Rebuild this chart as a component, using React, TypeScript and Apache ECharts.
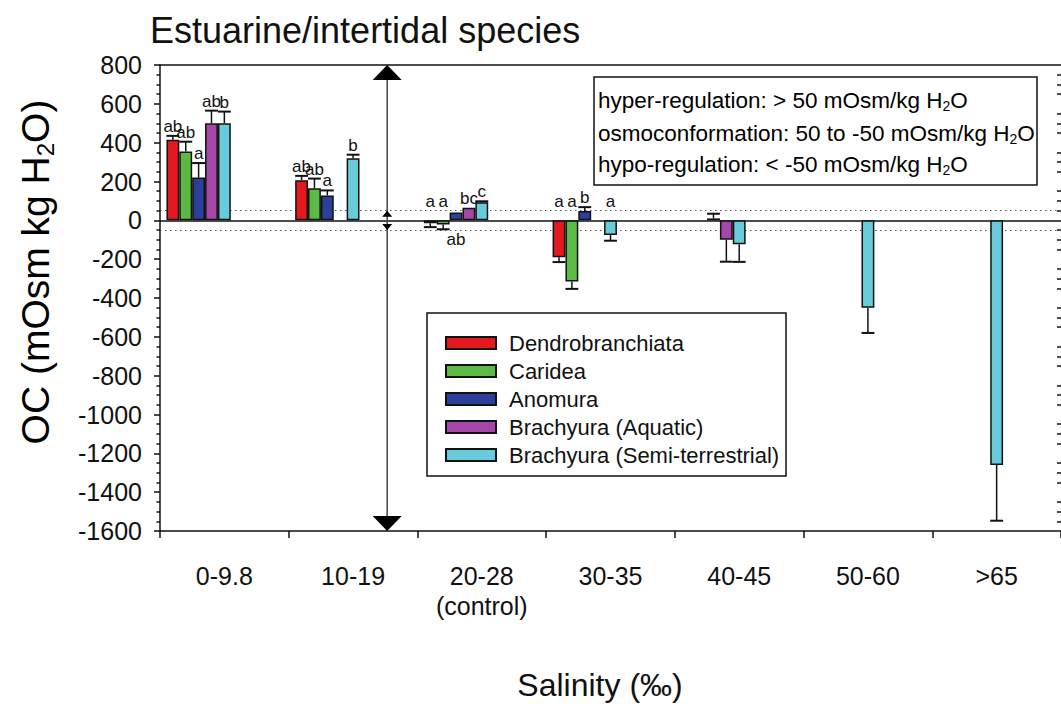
import React, { useEffect, useRef } from 'react';
import * as echarts from 'echarts';

// Salinity classes (‰) on the x axis
const categories = ['0-9.8', '10-19', '20-28\n(control)', '30-35', '40-45', '50-60', '>65'];

// Taxa shown as grouped bars
const seriesNames = [
  'Dendrobranchiata',
  'Caridea',
  'Anomura',
  'Brachyura (Aquatic)',
  'Brachyura (Semi-terrestrial)',
];
const seriesColors = ['#e3191f', '#5aba45', '#2c409b', '#a546a9', '#68cbdb'];

// Osmotic capacity (mOsm/kg H2O), mean and one-sided error per salinity class
const dendrobranchiata = [415, 207, -15, -190, null, null, null];
const dendrobranchiataErr = [20, 22, 20, 25, null, null, null];
const caridea = [355, 165, -22, -315, null, null, null];
const carideaErr = [50, 50, 24, 38, null, null, null];
const anomura = [220, 128, 40, 48, 10, null, null];
const anomuraErr = [75, 26, null, 20, 24, null, null];
const brachyuraAquatic = [500, null, 65, null, -100, null, null];
const brachyuraAquaticErr = [65, null, null, null, 113, null, null];
const brachyuraSemi = [500, 320, 93, -75, -123, -450, -1260];
const brachyuraSemiErr = [60, 18, 5, 30, 91, 130, 287];

// Significance letters
const dendrobranchiataLetters = ['ab', 'ab', 'a', 'a', '', '', ''];
const carideaLetters = ['ab', 'ab', 'a', 'a', '', '', ''];
const anomuraLetters = ['a', 'a', 'ab', 'b', '', '', ''];
const brachyuraAquaticLetters = ['ab', '', 'bc', '', '', '', ''];
const brachyuraSemiLetters = ['b', 'b', 'c', 'a', '', '', ''];
// [series, category] letters printed under the zero line
const lettersUnderAxis = [[2, 2]];

// Y axis range and regulation thresholds
const yMin = -1600;
const yMax = 800;
const yStep = 200;
const hyperLimit = 50;
const hypoLimit = -50;

const values = [dendrobranchiata, caridea, anomura, brachyuraAquatic, brachyuraSemi];
const errors = [dendrobranchiataErr, carideaErr, anomuraErr, brachyuraAquaticErr, brachyuraSemiErr];
const letters = [
  dendrobranchiataLetters,
  carideaLetters,
  anomuraLetters,
  brachyuraAquaticLetters,
  brachyuraSemiLetters,
];

const FONT = '"Liberation Sans", Arial, Helvetica, sans-serif';
const INK = '#111';
const BAR_SHARE = 0.1; // bar width as a share of the category band
const SPACER_SHARE = 0.4;

function subRich(size: number, subSize: number, lh: number) {
  return {
    t: { fontSize: size, fontFamily: FONT, color: INK, lineHeight: lh },
    s: { fontSize: subSize, fontFamily: FONT, color: INK, lineHeight: subSize, verticalAlign: 'bottom' },
  };
}

export default function App() {
  const ref = useRef<HTMLDivElement>(null);

  useEffect(() => {
    if (!ref.current) return;
    const chart = echarts.init(ref.current, null, { renderer: 'svg' });

    const barSeries = values.map((vals, k) => ({
      name: seriesNames[k],
      type: 'bar',
      xAxisIndex: 0,
      yAxisIndex: 0,
      data: vals.map((v) => (v == null ? '-' : v)),
      barWidth: `${BAR_SHARE * 100}%`,
      barGap: '0%',
      z: 2,
      itemStyle: { color: seriesColors[k], borderColor: INK, borderWidth: 1.5 },
      ...(k === 0
        ? {
            markLine: {
              silent: true,
              z: 1,
              symbol: ['none', 'none'],
              label: { show: false },
              data: [
                { yAxis: hyperLimit, lineStyle: { color: '#555', width: 1, type: [1.5, 3.5] } },
                { yAxis: hypoLimit, lineStyle: { color: '#555', width: 1, type: [1.5, 3.5] } },
                { yAxis: 0, lineStyle: { color: INK, width: 1.5, type: 'solid' } },
              ],
            },
          }
        : {}),
    }));

    const spacer = {
      name: 'spacer',
      type: 'bar',
      xAxisIndex: 0,
      yAxisIndex: 0,
      data: categories.map(() => '-'),
      barWidth: `${SPACER_SHARE * 100}%`,
      barGap: '0%',
      silent: true,
      itemStyle: { color: 'transparent' },
    };

    const errorSeries = values.map((vals, k) => ({
      name: seriesNames[k] + ' error',
      type: 'custom',
      xAxisIndex: 0,
      yAxisIndex: 0,
      z: 4,
      silent: true,
      encode: { x: 0, y: 1 },
      data: vals
        .map((v, i) => (v == null ? null : [i, v, errors[k][i] ?? 0]))
        .filter((d) => d !== null),
      renderItem: (params: any, api: any) => {
        const ci = api.value(0) as number;
        const v = api.value(1) as number;
        const e = api.value(2) as number;
        const catW = api.size([1, 0])[0];
        const barW = BAR_SHARE * catW;
        const cx = api.coord([ci, 0])[0] - ((5 * BAR_SHARE + SPACER_SHARE) / 2) * catW + (k + 0.5) * barW;
        const y0 = api.coord([ci, 0])[1];
        const yv = api.coord([ci, v])[1];
        const sign = v >= 0 ? 1 : -1;
        const children: any[] = [];
        let yEnd = yv;
        if (e > 0) {
          const ye = api.coord([ci, v + sign * e])[1];
          yEnd = ye;
          children.push({
            type: 'line',
            shape: { x1: cx, y1: yv, x2: cx, y2: ye },
            style: { stroke: INK, lineWidth: 1.5 },
          });
          children.push({
            type: 'line',
            shape: { x1: cx - barW / 2, y1: ye, x2: cx + barW / 2, y2: ye },
            style: { stroke: INK, lineWidth: 2 },
          });
        }
        const letter = letters[k][ci];
        if (letter) {
          const under = lettersUnderAxis.some(([s, c]) => s === k && c === ci);
          let ty: number;
          let va: string;
          if (under) {
            ty = y0 + 11;
            va = 'top';
          } else if (v >= 0) {
            ty = Math.min(yEnd, yv) - 1;
            va = 'bottom';
          } else {
            ty = y0 - 10;
            va = 'bottom';
          }
          children.push({
            type: 'text',
            style: {
              text: letter,
              x: cx,
              y: ty,
              align: 'center',
              verticalAlign: va,
              textAlign: 'center',
              textVerticalAlign: va,
              fontSize: 17,
              fontFamily: FONT,
              fill: INK,
            },
          });
        }
        return { type: 'group', children };
      },
    }));

    // Range arrow spanning the axis, with small heads at the osmoconformation band
    const arrowSeries = {
      name: 'range arrow',
      type: 'custom',
      xAxisIndex: 0,
      yAxisIndex: 0,
      z: 3,
      silent: true,
      encode: { x: 0, y: 1 },
      data: [[1, 0]],
      renderItem: (params: any, api: any) => {
        const catW = api.size([1, 0])[0];
        const x = api.coord([1, 0])[0] + 0.265 * catW;
        const yT = api.coord([1, yMax])[1];
        const yB = api.coord([1, yMin])[1];
        const yH = api.coord([1, hyperLimit])[1];
        const yL = api.coord([1, hypoLimit])[1];
        const big = 14.5;
        const bigH = 15;
        const sm = 5;
        const smH = 6;
        return {
          type: 'group',
          children: [
            { type: 'line', shape: { x1: x, y1: yT, x2: x, y2: yB }, style: { stroke: '#444', lineWidth: 1.5 } },
            { type: 'polygon', shape: { points: [[x, yT], [x - big, yT + bigH], [x + big, yT + bigH]] }, style: { fill: '#000' } },
            { type: 'polygon', shape: { points: [[x, yB], [x - big, yB - bigH], [x + big, yB - bigH]] }, style: { fill: '#000' } },
            { type: 'polygon', shape: { points: [[x, yH], [x - sm, yH + smH], [x + sm, yH + smH]] }, style: { fill: '#000' } },
            { type: 'polygon', shape: { points: [[x, yL], [x - sm, yL - smH], [x + sm, yL - smH]] }, style: { fill: '#000' } },
          ],
        };
      },
    };

    const boxRich = subRich(22.5, 14, 26);
    const boxLines = [
      '{t|hyper-regulation: > 50 mOsm/kg H}{s|2}{t|O}',
      '{t|osmoconformation: 50 to -50 mOsm/kg H}{s|2}{t|O}',
      '{t|hypo-regulation: < -50 mOsm/kg H}{s|2}{t|O}',
    ];
    const boxLineY = [100, 133, 164];

    const option: any = {
      animation: false,
      backgroundColor: '#fff',
      textStyle: { fontFamily: FONT },
      grid: { left: 160, right: 0, top: 65, bottom: 173, containLabel: false },
      legend: {
        data: seriesNames,
        orient: 'vertical',
        left: 440,
        top: 327,
        itemWidth: 50,
        itemHeight: 12,
        itemGap: 6,
        selectedMode: false,
        icon: 'rect',
        textStyle: { fontSize: 22, color: INK, fontFamily: FONT, padding: [0, 0, 0, 8] },
      },
      xAxis: [
        {
          type: 'category',
          data: categories,
          position: 'bottom',
          axisLine: { onZero: false, lineStyle: { color: INK, width: 1.5 } },
          axisTick: { show: true, length: 7, lineStyle: { color: INK, width: 1.5 } },
          axisLabel: { interval: 0, fontSize: 25, color: INK, fontFamily: FONT, margin: 30, lineHeight: 30 },
          splitLine: { show: false },
        },
        {
          type: 'category',
          data: categories,
          position: 'top',
          axisLine: { onZero: false, lineStyle: { color: INK, width: 1.5 } },
          axisTick: { show: false },
          axisLabel: { show: false },
        },
      ],
      yAxis: [
        {
          type: 'value',
          min: yMin,
          max: yMax,
          interval: yStep,
          position: 'left',
          axisLine: { show: true, onZero: false, lineStyle: { color: INK, width: 1.5 } },
          axisTick: { show: true, length: 6, lineStyle: { color: INK, width: 1.5 } },
          minorTick: { show: true, splitNumber: 4, length: 3.5, lineStyle: { color: INK, width: 1.5 } },
          axisLabel: {
            fontSize: 25,
            color: INK,
            fontFamily: FONT,
            margin: 18,
            formatter: (v: number) => String(v),
          },
          splitLine: { show: false },
        },
        {
          type: 'value',
          min: yMin,
          max: yMax,
          interval: yStep,
          position: 'right',
          axisLine: { show: false },
          axisTick: { show: false, inside: true },
          minorTick: { show: true, splitNumber: 4, length: 4, lineStyle: { color: INK, width: 1.5 } },
          axisLabel: { show: false },
          splitLine: { show: false },
        },
      ],
      graphic: [
        {
          type: 'text',
          left: 150,
          top: 12,
          style: { text: 'Estuarine/intertidal species', fontSize: 36, fontFamily: FONT, fill: INK },
        },
        {
          type: 'text',
          x: 35,
          y: 272,
          rotation: Math.PI / 2,
          style: {
            text: '{t|OC (mOsm kg H}{s|2}{t|O)}',
            rich: subRich(39, 24, 44),
            align: 'center',
            verticalAlign: 'middle',
            textAlign: 'center',
            textVerticalAlign: 'middle',
          },
        },
        {
          type: 'text',
          x: 600,
          y: 685,
          style: {
            text: 'Salinity (‰)',
            fontSize: 32,
            fontFamily: FONT,
            fill: INK,
            align: 'center',
            verticalAlign: 'middle',
            textAlign: 'center',
            textVerticalAlign: 'middle',
          },
        },
        {
          type: 'rect',
          shape: { x: 594, y: 77, width: 443, height: 108 },
          style: { fill: 'none', stroke: INK, lineWidth: 1.5 },
        },
        ...boxLines.map((txt, i) => ({
          type: 'text',
          x: 598,
          y: boxLineY[i],
          style: {
            text: txt,
            rich: boxRich,
            align: 'left',
            verticalAlign: 'middle',
            textAlign: 'left',
            textVerticalAlign: 'middle',
          },
        })),
        {
          type: 'rect',
          shape: { x: 427, y: 313, width: 359, height: 163 },
          style: { fill: 'none', stroke: INK, lineWidth: 1.5 },
        },
      ],
      series: [...barSeries, spacer, ...errorSeries, arrowSeries],
    };

    chart.setOption(option);
    return () => chart.dispose();
  }, []);

  return (
    <div
      ref={ref}
      style={{ position: 'absolute', left: 0, top: 0, width: 1061, height: 704, background: '#fff' }}
    />
  );
}
